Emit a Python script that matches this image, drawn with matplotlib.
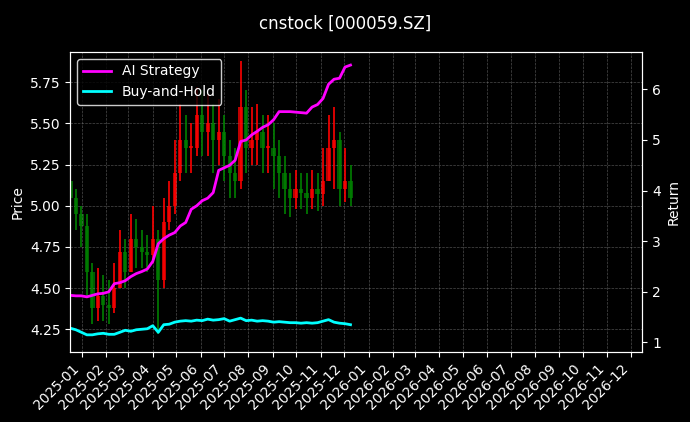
import matplotlib
matplotlib.use("Agg")
import matplotlib.pyplot as plt
import matplotlib.dates as mdates
import pandas as pd
import numpy as np

dates = pd.date_range("2024-12-17", periods=52, freq="7D")
close = [5.05,4.95,4.88,4.60,4.38,4.45,4.40,4.38,4.50,4.72,4.60,4.80,4.75,4.72,4.70,4.80,4.55,4.90,5.00,5.20,
         5.40,5.35,5.35,5.55,5.45,5.50,5.40,5.45,5.30,5.20,5.15,5.60,5.35,5.40,5.45,5.35,5.35,5.30,5.20,5.10,
         5.05,5.10,5.08,5.05,5.10,5.07,5.15,5.35,5.40,5.10,5.15,5.05]
open_ = [5.15] + close[:-1]
high = [5.25,5.10,5.00,4.95,4.65,4.62,4.58,4.55,4.65,4.85,4.80,4.95,4.92,4.85,4.82,5.00,4.85,5.05,5.15,5.40,
        5.62,5.55,5.50,5.72,5.70,5.68,5.62,5.65,5.55,5.40,5.35,5.88,5.70,5.60,5.62,5.55,5.55,5.50,5.40,5.30,
        5.20,5.22,5.20,5.20,5.22,5.20,5.35,5.55,5.60,5.45,5.35,5.25]
low = [4.90,4.85,4.75,4.45,4.28,4.30,4.30,4.28,4.35,4.50,4.50,4.60,4.62,4.62,4.60,4.65,4.22,4.50,4.85,4.95,
       5.15,5.20,5.20,5.30,5.30,5.30,5.20,5.25,5.15,5.05,5.05,5.10,5.20,5.25,5.25,5.20,5.20,5.10,5.05,4.95,
       4.93,4.98,4.98,4.95,4.98,4.97,5.00,5.15,5.10,5.00,5.02,5.00]
ai_ret = [1.93,1.92,1.92,1.90,1.93,1.96,1.97,2.00,2.16,2.18,2.22,2.30,2.36,2.40,2.45,2.60,2.95,3.05,3.12,3.17,
          3.30,3.37,3.63,3.70,3.80,3.85,3.96,4.40,4.45,4.50,4.60,4.97,5.00,5.10,5.17,5.25,5.30,5.40,5.56,5.56,
          5.56,5.55,5.54,5.53,5.65,5.70,5.82,6.10,6.20,6.22,6.44,6.48]
bh_ret = [1.28,1.25,1.20,1.15,1.15,1.17,1.18,1.16,1.16,1.20,1.24,1.22,1.25,1.26,1.27,1.33,1.20,1.35,1.36,1.40,
          1.42,1.43,1.42,1.44,1.43,1.46,1.44,1.45,1.47,1.42,1.45,1.48,1.43,1.44,1.42,1.43,1.42,1.40,1.41,1.40,
          1.39,1.39,1.38,1.39,1.38,1.39,1.42,1.45,1.40,1.38,1.37,1.35]

plt.rcParams['font.family'] = ['DejaVu Sans']
fig = plt.figure(figsize=(6.9, 4.22), dpi=100, facecolor='black')
ax = fig.add_axes([0.102, 0.167, 0.829, 0.710])
ax.set_facecolor('black')
x = mdates.date2num(dates)
for xi, o, c, h, l in zip(x, open_, close, high, low):
    col = 'red' if c >= o else 'green'
    ax.vlines(xi, l, h, color=col, linewidth=1.2)
    ax.bar(xi, abs(c - o) if abs(c - o) > 0.005 else 0.01, bottom=min(o, c), width=5.5, color=col, alpha=0.75)
ax.set_ylim(4.115, 5.934)
ax.set_xlim(mdates.datestr2num("2024-12-17"), mdates.datestr2num("2026-12-16"))
ax.set_ylabel("Price", color='white')
ax.grid(True, color='gray', linestyle='--', linewidth=0.5, alpha=0.6)
ax2 = ax.twinx()
ax2.plot(x, ai_ret, color='magenta', linewidth=2, label='AI Strategy')
ax2.plot(x, bh_ret, color='cyan', linewidth=2, label='Buy-and-Hold')
ax2.set_ylim(0.82, 6.74)
ax2.set_ylabel("Return", color='white')
ax.xaxis.set_major_locator(mdates.MonthLocator())
ax.xaxis.set_major_formatter(mdates.DateFormatter('%Y-%m'))
plt.setp(ax.get_xticklabels(), rotation=45, ha='right')
for a in (ax, ax2):
    a.tick_params(colors='white')
    for s in a.spines.values():
        s.set_color('white')
ax2.grid(False)
leg = ax2.legend(loc='upper left', facecolor='black', edgecolor='white', labelcolor='white')
fig.suptitle("cnstock [000059.SZ]", color='white', fontsize=12, y=0.965)
fig.savefig("out.png", facecolor='black')
